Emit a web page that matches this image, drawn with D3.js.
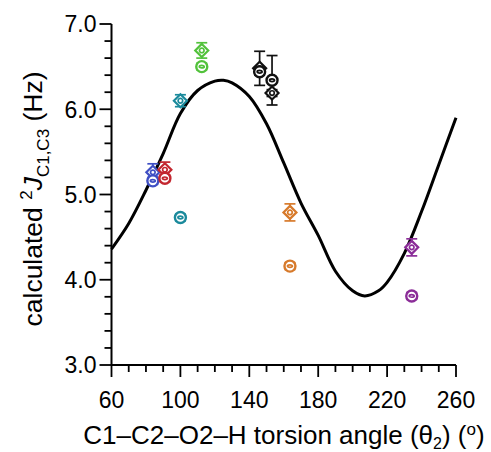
<!DOCTYPE html>
<html>
<head>
<meta charset="utf-8">
<script src="https://cdn.jsdelivr.net/npm/d3@7"></script>
<style>
  body { margin: 0; background: #fff; }
  text { font-family: "Liberation Sans", Arial, sans-serif; }
</style>
</head>
<body>
<div id="chart"></div>
<script>
// fitted curve
var curveTheta = [60, 70, 80, 90, 100, 110, 120, 125, 130, 140, 150, 160, 170, 180, 190, 200, 207, 215, 220, 230, 240, 250, 260];
var curveJ = [4.36, 4.66, 5.05, 5.48, 5.95, 6.22, 6.33, 6.34, 6.31, 6.15, 5.83, 5.37, 4.90, 4.52, 4.10, 3.87, 3.81, 3.87, 3.97, 4.31, 4.80, 5.35, 5.90];

// data points (two per colour group)
var pointTheta = [84, 84, 91, 91, 100, 100, 112.4, 112.4, 146, 146, 153.2, 153.2, 163.6, 163.6, 234.3, 234.3];
var pointJ = [5.26, 5.16, 5.29, 5.19, 6.10, 4.73, 6.69, 6.50, 6.48, 6.44, 6.34, 6.19, 4.79, 4.16, 4.38, 3.81];
var pointErr = [0.10, 0.04, 0.09, 0.04, 0.07, 0.04, 0.09, 0.04, 0.20, 0.04, 0.29, 0.04, 0.10, 0.04, 0.10, 0.04];
var pointShape = ["diamond", "ring", "diamond", "ring", "diamond", "ring", "diamond", "ring",
                  "diamond", "ring", "ring", "diamond", "diamond", "ring", "diamond", "ring"];
var pointColor = ["#3f4fc4", "#3f4fc4", "#c3272f", "#c3272f", "#1b8a9c", "#1b8a9c", "#52c23b", "#52c23b",
                  "#111", "#111", "#111", "#111", "#d77a2b", "#d77a2b", "#8b2d98", "#8b2d98"];

var xTickLabels = [60, 100, 140, 180, 220, 260];
var yTickLabels = [3.0, 4.0, 5.0, 6.0, 7.0];

var width = 491, height = 452;

var svg = d3.select("#chart").append("svg")
  .attr("width", width)
  .attr("height", height);

var x = d3.scaleLinear().domain([60, 260]).range([111.5, 456]);
var y = d3.scaleLinear().domain([3, 7]).range([365, 24]);

//axes
var xAxis = svg.append("g").attr("transform", "translate(0,365)");
xAxis.append("line").attr("x1", x(60)).attr("x2", x(260))
  .attr("stroke", "#000").attr("stroke-width", 2);
xAxis.selectAll(".minor").data(d3.range(60, 261, 10)).enter().append("line")
  .attr("x1", function(d) { return x(d); })
  .attr("x2", function(d) { return x(d); })
  .attr("y1", 0)
  .attr("y2", function(d) { return xTickLabels.indexOf(d) >= 0 ? 12 : 7; })
  .attr("stroke", "#000").attr("stroke-width", 1.8);
xAxis.selectAll(".lbl").data(xTickLabels).enter().append("text")
  .attr("x", function(d) { return x(d); })
  .attr("y", 43)
  .attr("text-anchor", "middle")
  .attr("font-size", 23)
  .text(function(d) { return d; });

var yAxis = svg.append("g").attr("transform", "translate(" + x(60) + ",0)");
yAxis.append("line").attr("y1", y(3)).attr("y2", y(7))
  .attr("stroke", "#000").attr("stroke-width", 2);
yAxis.selectAll(".minor").data(d3.range(0, 21)).enter().append("line")
  .attr("y1", function(d) { return y(3 + d * 0.2); })
  .attr("y2", function(d) { return y(3 + d * 0.2); })
  .attr("x1", function(d) { return d % 5 == 0 ? -12 : -7; })
  .attr("x2", 0)
  .attr("stroke", "#000").attr("stroke-width", 1.8);
yAxis.selectAll(".lbl").data(yTickLabels).enter().append("text")
  .attr("x", -15)
  .attr("y", function(d) { return y(d); })
  .attr("dy", "0.36em")
  .attr("text-anchor", "end")
  .attr("font-size", 23)
  .text(function(d) { return d.toFixed(1); });

//curve
var line = d3.line()
  .x(function(d) { return x(d[0]); })
  .y(function(d) { return y(d[1]); })
  .curve(d3.curveCatmullRom);
svg.append("path")
  .attr("d", line(d3.zip(curveTheta, curveJ)))
  .attr("fill", "none")
  .attr("stroke", "#000")
  .attr("stroke-width", 3);

//points with error bars
var pts = svg.selectAll(".pt").data(d3.range(pointJ.length)).enter().append("g")
  .attr("transform", function(i) { return "translate(" + x(pointTheta[i]) + "," + y(pointJ[i]) + ")"; })
  .attr("stroke", function(i) { return pointColor[i]; })
  .attr("fill", "none")
  .attr("stroke-width", 1.7);

pts.each(function(i) {
  var g = d3.select(this);
  var e = y(pointJ[i] - pointErr[i]) - y(pointJ[i]);
  g.append("line").attr("x1", 0).attr("x2", 0).attr("y1", -e).attr("y2", e);
  g.append("line").attr("x1", -5.5).attr("x2", 5.5).attr("y1", -e).attr("y2", -e);
  g.append("line").attr("x1", -5.5).attr("x2", 5.5).attr("y1", e).attr("y2", e);
  if (pointShape[i] == "diamond") {
    g.append("path").attr("d", "M0,-6.5L6.5,0L0,6.5L-6.5,0Z").attr("fill", "#fff").attr("stroke-width", 2.2);
    g.append("circle").attr("r", 2.3).attr("stroke-width", 1.7);
  } else {
    g.append("circle").attr("r", 5.5).attr("fill", "#fff").attr("stroke-width", 2.4);
    g.append("ellipse").attr("rx", 2.5).attr("ry", 1.3).attr("stroke-width", 1.7);
  }
});

//axis titles
var xt = svg.append("text")
  .attr("x", 284)
  .attr("y", 444)
  .attr("text-anchor", "middle")
  .attr("font-size", 26);
xt.append("tspan").text("C1\u2013C2\u2013O2\u2013H torsion angle (\u03b8");
xt.append("tspan").attr("font-size", 16).attr("dy", 5).text("2");
xt.append("tspan").attr("dy", -5).text(") (");
xt.append("tspan").attr("font-size", 17).attr("dy", -9).text("o");
xt.append("tspan").attr("dy", 9).text(")");

var yt = svg.append("text")
  .attr("transform", "translate(42,199) rotate(-90)")
  .attr("text-anchor", "middle")
  .attr("font-size", 26.5);
yt.append("tspan").text("calculated ");
yt.append("tspan").attr("font-size", 17).attr("dy", -10).text("2");
yt.append("tspan").attr("dy", 10).attr("font-style", "italic").text("J");
yt.append("tspan").attr("font-size", 17).attr("dy", 7).text("C1,C3");
yt.append("tspan").attr("dy", -7).text(" (Hz)");
</script>
</body>
</html>
